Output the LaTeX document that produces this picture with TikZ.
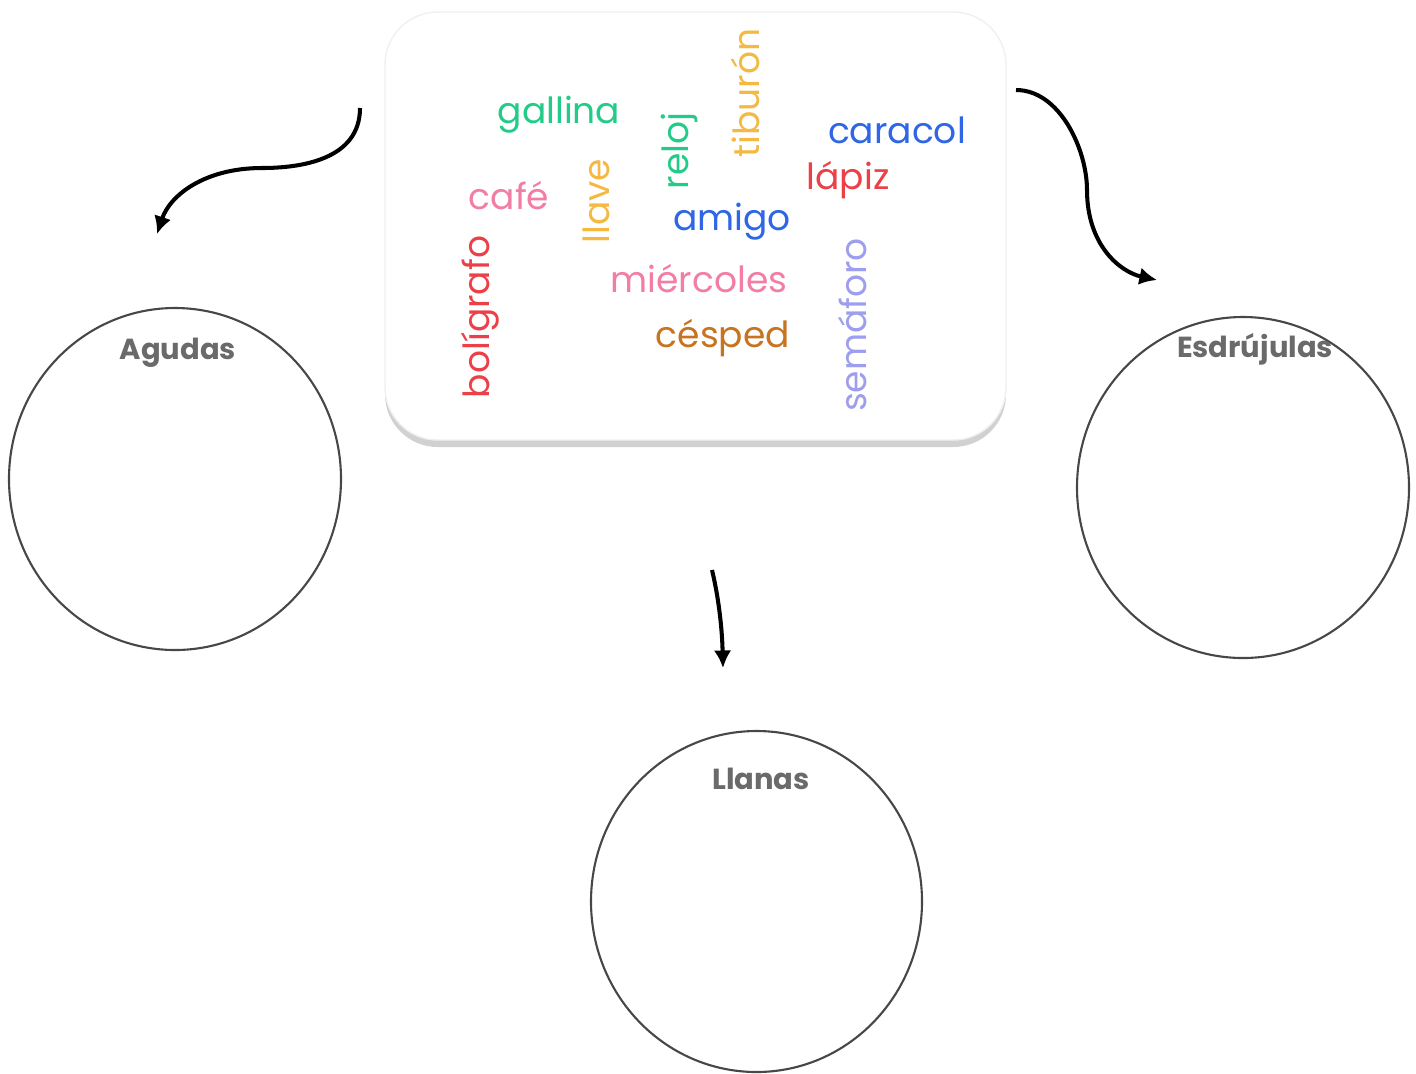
\documentclass[tikz,border=0pt]{standalone}
\usepackage{fontspec}
\setmainfont{Poppins}
\usetikzlibrary{shadows,arrows.meta}
\definecolor{wgreen}{HTML}{22CC88}
\definecolor{wyellow}{HTML}{F4B942}
\definecolor{wblue}{HTML}{2F66E6}
\definecolor{wred}{HTML}{EC4048}
\definecolor{wpink}{HTML}{F27EA4}
\definecolor{wbrown}{HTML}{C8731F}
\definecolor{wlav}{HTML}{9E9EEE}
\definecolor{lbl}{HTML}{6A6A6A}
\tikzset{
  word/.style={font=\fontsize{20.5}{22}\selectfont, inner sep=0pt},
  vword/.style={word, rotate=90},
  bubble/.style={draw=black!72, line width=1.2pt},
  lab/.style={font=\bfseries\fontsize{16.5}{19}\selectfont, text=lbl, inner sep=0pt},
  conn/.style={line width=2.3pt, -{Latex[length=10pt,width=10pt]}},
  cloud/.style={draw=black!6, fill=white, rounded corners=30pt, line width=0.8pt,
    drop shadow={shadow xshift=0pt, shadow yshift=-4pt, fill=black!30, opacity=0.6}}
}
\begin{document}
\begin{tikzpicture}[x=0.02cm,y=-0.02cm]
\useasboundingbox (0,0) rectangle (1416,1073);
% word cloud box
\node[cloud, minimum width=621*0.02cm, minimum height=428*0.02cm] (box) at (695.5,226) {};
\node[word, text=wgreen] (gallina) at (559,115) {gallina};
\node[vword, text=wyellow] (tiburon) at (745,93) {tiburón};
\node[vword, text=wgreen] (reloj) at (679,151) {reloj};
\node[word, text=wblue] (caracol) at (897,130) {caracol};
\node[word, text=wred] (lapiz) at (848,180) {lápiz};
\node[word, text=wpink] (cafe) at (509,196) {café};
\node[vword, text=wyellow] (llave) at (596,201) {llave};
\node[word, text=wblue] (amigo) at (732,222) {amigo};
\node[word, text=wpink] (miercoles) at (699,279) {miércoles};
\node[vword, text=wred] (boligrafo) at (480,317) {bolígrafo};
\node[word, text=wbrown] (cesped) at (723,338) {césped};
\node[vword, text=wlav] (semaforo) at (853,325) {semáforo};
% circles
\draw[bubble] (175,479) ellipse [x radius=166, y radius=171];
\draw[bubble] (1243,487.5) ellipse [x radius=166, y radius=170.5];
\draw[bubble] (756.5,901.5) ellipse [x radius=165.5, y radius=170.5];
\node[lab] (agudas) at (178,353) {Agudas};
\node[lab] (esdrujulas) at (1255,349) {Esdrújulas};
\node[lab] (llanas) at (761,779) {Llanas};
% connectors
\coordinate (a1) at (360,108);
\coordinate (a2) at (157,234);
\coordinate (b1) at (1016,90);
\coordinate (b2) at (1157,280);
\coordinate (c1) at (712,570);
\coordinate (c2) at (723,668);
\draw[conn] (a1) .. controls (360,160) and (300,168) .. (262,168) .. controls (205,168) and (170,195) .. (a2);
\draw[conn] (b1) .. controls (1060,90) and (1087,150) .. (1087,190) .. controls (1087,245) and (1120,272) .. (b2);
\draw[conn] (c1) .. controls (718,595) and (722,625) .. (c2);
\end{tikzpicture}
\end{document}
